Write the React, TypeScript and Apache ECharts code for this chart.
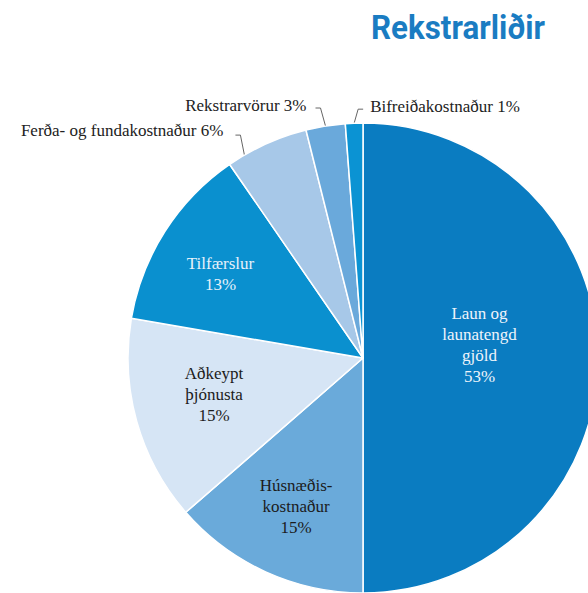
import React, { useEffect, useRef } from 'react';
import * as echarts from 'echarts';

const titleText = 'Rekstrarliðir';
const categories = [
  'Laun og launatengd gjöld',
  'Húsnæðiskostnaður',
  'Aðkeypt þjónusta',
  'Tilfærslur',
  'Ferða- og fundakostnaður',
  'Rekstrarvörur',
  'Bifreiðakostnaður',
];
const labelTexts = [
  'Laun og\nlaunatengd\ngjöld',
  'Húsnæðis-\nkostnaður',
  'Aðkeypt\nþjónusta',
  'Tilfærslur',
  'Ferða- og fundakostnaður',
  'Rekstrarvörur',
  'Bifreiðakostnaður',
];
const percentLabels = ['53%', '15%', '15%', '13%', '6%', '3%', '1%'];
// slice sizes as drawn in the picture
const values = [50.0, 13.6, 14.1, 12.7, 5.7, 2.7, 1.2];
const insideLabel = [true, true, true, true, false, false, false];

const colors = ['#0a7cc1', '#6aaada', '#d6e5f5', '#0a90cf', '#a7c8e8', '#6aa9db', '#0b93d3'];
const labelColors = ['#eef4fb', '#1c1c1c', '#1c1c1c', '#e6f1fa', '#222', '#222', '#222'];

const CX = 363;
const CY = 358;
const R = 235;

// label placement tweaks (styles, not data)
const innerOffsets: Record<number, [number, number]> = {
  0: [-4, -13],
  1: [-17, 39],
  2: [-33, 4],
  3: [-41, -19],
};
// per outside label: rotation of start point (deg), elbow dx, elbow dy, horizontal len, text gap, text dy
const outerCfg: Record<number, { rot: number; ex: number; ey: number; h: number; gap: number; ty: number }> = {
  4: { rot: -6, ex: -4, ey: -20, h: -5, gap: 12, ty: -5 },
  5: { rot: 0, ex: -5, ey: -18, h: -5, gap: 9, ty: -3 },
  6: { rot: 0, ex: 4, ey: -14, h: 5, gap: 7, ty: -3 },
};

export default function App() {
  const ref = useRef<HTMLDivElement>(null);
  useEffect(() => {
    if (!ref.current) return;
    const chart = echarts.init(ref.current, undefined, { renderer: 'svg' });
    const serif = "'Liberation Serif', 'DejaVu Serif', serif";
    const data = categories.map((name, i) => ({
      name,
      value: values[i],
      itemStyle: { color: colors[i] },
      label: insideLabel[i]
        ? {
            show: true,
            position: 'inside',
            formatter: `${labelTexts[i]}\n${percentLabels[i]}`,
            color: labelColors[i],
            fontFamily: serif,
            fontSize: 17,
            lineHeight: 21,
            align: 'center',
          }
        : {
            show: true,
            position: 'outside',
            formatter: `${labelTexts[i]} ${percentLabels[i]}`,
            color: labelColors[i],
            fontFamily: serif,
            fontSize: 17,
          },
      labelLine: insideLabel[i]
        ? { show: false }
        : { show: true, length: 15, length2: 5, lineStyle: { color: '#666', width: 1 } },
    }));

    chart.setOption({
      animation: false,
      backgroundColor: '#fff',
      graphic: [
        {
          type: 'text',
          x: 545,
          y: 44,
          scaleX: 0.95,
          style: {
            text: titleText,
            fill: '#1a7cc2',
            font: "bold 33px Roboto, 'Liberation Sans', sans-serif",
            align: 'right',
            verticalAlign: 'bottom',
          },
        },
      ],
      series: [
        {
          type: 'pie',
          center: [CX, CY],
          radius: [0, R],
          startAngle: 90,
          clockwise: true,
          avoidLabelOverlap: false,
          itemStyle: { borderColor: '#ffffff', borderWidth: 1.5 },
          emphasis: { disabled: true },
          data,
          labelLayout: (p: any) => {
            const i = p.dataIndex;
            if (innerOffsets[i]) {
              return { dx: innerOffsets[i][0], dy: innerOffsets[i][1] };
            }
            const cfg = outerCfg[i];
            const pts = p.labelLinePoints;
            if (!cfg || !pts) return {};
            let [x0, y0] = pts[0];
            const a = (cfg.rot * Math.PI) / 180;
            const rx = x0 - CX;
            const ry = y0 - CY;
            x0 = CX + rx * Math.cos(a) - ry * Math.sin(a);
            y0 = CY + rx * Math.sin(a) + ry * Math.cos(a);
            const p1 = [x0 + cfg.ex, y0 + cfg.ey];
            const p2 = [p1[0] + cfg.h, p1[1]];
            const side = cfg.h < 0 ? -1 : 1;
            return {
              x: p2[0] + side * cfg.gap,
              y: p2[1] + cfg.ty,
              align: side < 0 ? 'right' : 'left',
              verticalAlign: 'middle',
              labelLinePoints: [[x0, y0], p1, p2],
            };
          },
        },
      ],
    });
    return () => chart.dispose();
  }, []);
  return (
    <div
      ref={ref}
      style={{ position: 'absolute', left: 0, top: 0, width: 588, height: 593 }}
    />
  );
}
